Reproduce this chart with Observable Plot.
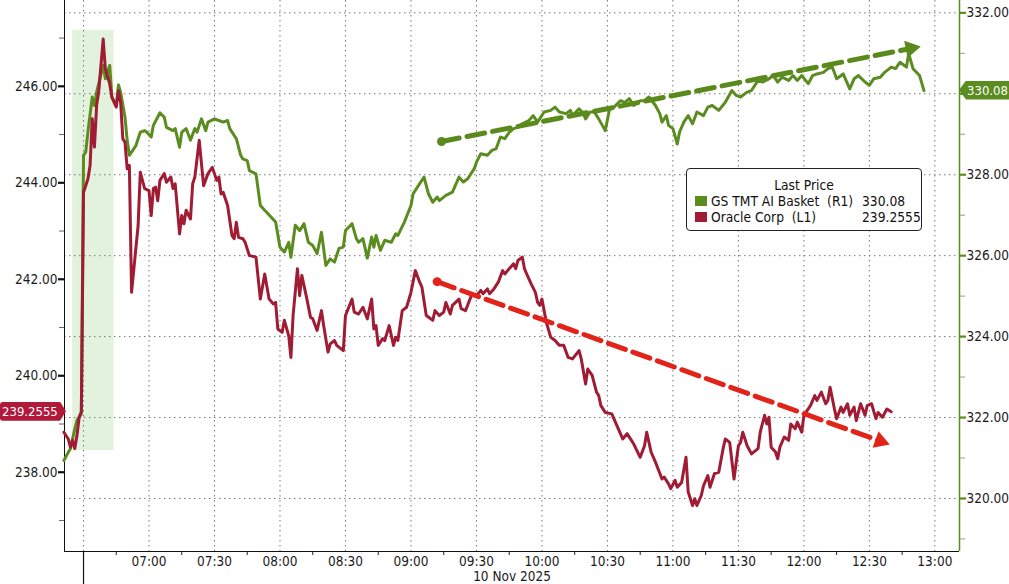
<!DOCTYPE html>
<html><head><meta charset="utf-8">
<script src="https://cdn.jsdelivr.net/npm/d3@7"></script>
<script src="https://cdn.jsdelivr.net/npm/@observablehq/plot@0.6"></script>
<style>
html,body{margin:0;padding:0;background:#fff;}
#wrap{position:relative;width:1009px;height:584px;overflow:hidden;
  font-family:"DejaVu Sans Condensed","Liberation Sans Narrow","Liberation Sans",sans-serif;}
#wrap svg{display:block;background:#fff;}
.badge{position:absolute;height:19px;line-height:19px;color:#fff;font-size:13px;box-sizing:border-box;}
.legend{position:absolute;background:#fff;border:1px solid #222;border-radius:4px;box-sizing:border-box;
  font-size:13.7px;color:#111;padding-top:8px;}
.legend .lp{text-align:center;line-height:16px;}
.legend .row{position:relative;height:16px;line-height:16px;}
.legend .sw{position:absolute;left:8px;top:3px;width:12px;height:10px;}
.legend .nm{position:absolute;left:24px;white-space:pre;}
.legend .val{position:absolute;left:175px;}
</style></head>
<body><div id="wrap"></div>
<script>
// ---------- data ----------
const seriesNames = ["GS TMT AI Basket", "Oracle Corp"];
const seriesTags = ["(R1)", "(L1)"];
const gsLast = 330.08;
const orclLast = 239.2555;

const gsSeries = [
["06:21",320.94],["06:23",321.14],["06:24",321.23],["06:26",321.72],["06:27",321.93],["06:29",322.09],
["06:30",328.48],["06:31",328.56],["06:32",329.05],["06:34",329.92],["06:35",329.71],["06:36",330.04],
["06:39",330.70],["06:40",330.37],["06:42",330.70],["06:43",329.92],["06:45",329.71],["06:46",330.22],
["06:47",330.04],["06:49",329.42],["06:50",328.85],["06:51",328.48],["06:54",328.72],["06:56",329.05],
["06:58",329.09],["06:59",329.05],["07:01",328.93],["07:02",329.22],["07:05",329.53],["07:07",329.42],
["07:08",329.17],["07:11",329.09],["07:12",329.14],["07:14",328.68],["07:15",329.05],["07:17",329.14],
["07:19",328.85],["07:21",329.14],["07:22",329.05],["07:24",329.38],["07:26",329.09],["07:27",329.30],
["07:30",329.38],["07:32",329.34],["07:34",329.30],["07:36",329.34],["07:37",329.14],["07:40",328.89],
["07:42",328.48],["07:43",328.39],["07:45",328.35],["07:46",328.10],["07:49",328.02],["07:51",327.24],
["07:53",327.12],["07:56",326.95],["07:58",326.83],["08:00",326.21],["08:02",326.09],["08:04",326.33],
["08:05",325.96],["08:07",326.75],["08:09",326.62],["08:11",326.79],["08:13",326.33],["08:15",326.25],
["08:17",326.05],["08:19",326.58],["08:21",325.76],["08:23",325.92],["08:25",325.84],["08:27",326.18],
["08:29",326.21],["08:30",326.62],["08:33",326.79],["08:35",326.42],["08:36",326.33],["08:38",326.42],
["08:40",325.94],["08:42",326.46],["08:43",326.21],["08:44",326.50],["08:46",326.13],["08:48",326.38],
["08:51",326.33],["08:53",326.54],["08:54",326.50],["08:57",326.83],["09:00",327.24],["09:01",327.53],
["09:04",327.78],["09:06",327.94],["09:08",327.53],["09:10",327.32],["09:12",327.45],["09:13",327.36],
["09:16",327.49],["09:19",327.57],["09:22",327.94],["09:24",327.82],["09:26",327.90],["09:29",328.15],
["09:30",328.31],["09:32",328.52],["09:35",328.48],["09:37",328.60],["09:39",328.64],["09:41",328.93],
["09:43",328.89],["09:45",329.05],["09:47",329.14],["09:49",329.17],["09:51",329.26],["09:54",329.34],
["09:56",329.46],["09:58",329.30],["10:01",329.55],["10:04",329.59],["10:06",329.67],["10:08",329.55],
["10:11",329.51],["10:13",329.59],["10:14",329.46],["10:17",329.63],["10:19",329.51],["10:20",329.38],
["10:22",329.55],["10:24",329.55],["10:26",329.38],["10:29",329.09],["10:31",329.63],["10:33",329.67],
["10:36",329.83],["10:38",329.79],["10:40",329.88],["10:42",329.71],["10:45",329.83],["10:47",329.83],
["10:49",329.92],["10:52",329.71],["10:54",329.51],["10:55",329.30],["10:57",329.46],["10:58",329.22],
["11:00",329.14],["11:02",328.76],["11:03",329.05],["11:05",329.30],["11:07",329.46],["11:09",329.26],
["11:11",329.55],["11:14",329.46],["11:16",329.67],["11:18",329.71],["11:21",329.59],["11:24",329.79],
["11:27",330.08],["11:29",329.96],["11:31",329.92],["11:34",330.04],["11:36",330.08],["11:39",330.33],
["11:41",330.29],["11:44",330.37],["11:46",330.45],["11:48",330.29],["11:50",330.41],["11:53",330.33],
["11:55",330.45],["11:57",330.33],["11:59",330.45],["12:02",330.25],["12:04",330.45],["12:06",330.49],
["12:09",330.53],["12:11",330.62],["12:13",330.66],["12:15",330.37],["12:18",330.49],["12:21",330.12],
["12:23",330.37],["12:25",330.45],["12:28",330.29],["12:30",330.21],["12:32",330.37],["12:35",330.41],
["12:37",330.53],["12:40",330.66],["12:42",330.62],["12:44",330.78],["12:47",330.66],["12:48",330.99],
["12:50",330.62],["12:53",330.45],["12:55",330.08]
];

const orclSeries = [
["06:21",238.83],["06:23",238.69],["06:24",238.52],["06:25",238.66],["06:26",238.49],["06:27",238.76],
["06:28",239.14],["06:29",239.2555],["06:30",243.80],["06:32",244.08],["06:33",244.36],["06:34",245.33],
["06:35",244.74],["06:36",245.60],["06:37",245.91],["06:39",246.98],["06:40",246.36],["06:42",246.05],
["06:43",245.77],["06:45",245.57],["06:46",245.91],["06:47",245.67],["06:48",244.91],["06:49",244.84],
["06:50",244.29],["06:51",244.36],["06:52",241.73],["06:55",243.11],["06:56",244.22],["06:58",243.88],
["07:00",243.84],["07:01",243.32],["07:02",243.88],["07:03",243.91],["07:04",243.63],["07:05",244.05],
["07:07",244.19],["07:08",244.01],["07:10",244.12],["07:11",243.88],["07:12",243.98],["07:14",242.94],
["07:15",243.32],["07:16",243.15],["07:17",243.43],["07:19",243.25],["07:20",243.98],["07:21",244.12],
["07:23",244.88],["07:25",243.94],["07:27",244.19],["07:29",244.32],["07:31",244.05],["07:32",244.12],
["07:33",243.77],["07:34",243.80],["07:36",243.53],["07:38",242.91],["07:39",242.84],["07:40",243.18],
["07:41",242.87],["07:43",242.84],["07:44",242.77],["07:46",242.49],["07:49",242.46],["07:51",241.59],
["07:53",242.11],["07:55",241.59],["07:57",241.49],["07:58",241.52],["07:59",240.97],["08:01",240.90],
["08:02",241.15],["08:04",240.83],["08:05",240.38],["08:06",241.25],["08:08",242.22],["08:09",241.66],
["08:10",242.08],["08:12",241.66],["08:14",241.21],["08:15",241.18],["08:17",240.94],["08:19",241.35],
["08:20",241.04],["08:22",240.49],["08:23",240.66],["08:25",240.73],["08:26",240.63],["08:29",240.52],
["08:30",241.25],["08:33",241.59],["08:34",241.32],["08:36",241.28],["08:38",241.42],["08:40",241.18],
["08:42",241.59],["08:43",240.97],["08:44",241.04],["08:45",240.63],["08:47",240.77],["08:48",240.73],
["08:50",241.04],["08:52",240.63],["08:53",240.80],["08:54",240.73],["08:56",241.35],["08:58",241.42],
["09:00",241.73],["09:02",242.18],["09:04",241.94],["09:05",241.84],["09:07",241.25],["09:10",241.15],
["09:11",241.35],["09:13",241.25],["09:15",241.32],["09:16",241.52],["09:18",241.28],["09:19",241.46],
["09:22",241.59],["09:23",241.39],["09:25",241.35],["09:28",241.70],["09:30",241.66],["09:32",241.77],
["09:33",241.70],["09:35",241.80],["09:36",241.70],["09:38",241.80],["09:40",241.94],["09:42",242.18],
["09:43",242.11],["09:45",242.22],["09:47",242.32],["09:48",242.22],["09:49",242.39],["09:51",242.46],
["09:52",242.22],["09:53",242.11],["09:55",241.91],["09:57",241.73],["09:58",241.52],["09:59",241.46],
["10:00",241.59],["10:02",241.11],["10:04",240.80],["10:06",240.73],["10:08",240.63],["10:10",240.63],
["10:12",240.38],["10:14",240.35],["10:17",240.52],["10:18",240.35],["10:20",239.83],["10:21",240.14],
["10:23",240.01],["10:25",239.66],["10:26",239.59],["10:27",239.38],["10:29",239.24],["10:32",239.21],
["10:35",238.90],["10:37",238.69],["10:39",238.80],["10:41",238.66],["10:42",238.59],["10:45",238.31],
["10:47",238.55],["10:48",238.83],["10:50",238.42],["10:52",238.21],["10:55",237.86],["10:56",237.90],
["10:58",237.76],["10:59",237.66],["11:01",237.83],["11:02",237.69],["11:04",237.79],["11:06",238.31],
["11:07",237.59],["11:09",237.31],["11:10",237.45],["11:11",237.31],["11:13",237.52],["11:14",237.72],
["11:16",237.93],["11:17",237.69],["11:19",237.97],["11:21",238.00],["11:23",238.49],["11:24",238.69],
["11:26",238.62],["11:28",237.86],["11:30",238.55],["11:31",238.62],["11:32",238.83],["11:34",238.55],
["11:36",238.38],["11:39",238.49],["11:40",238.83],["11:42",239.18],["11:43",239.00],["11:44",239.14],
["11:45",238.52],["11:47",238.42],["11:48",238.28],["11:49",238.52],["11:51",238.73],["11:53",238.66],
["11:54",239.00],["11:56",238.90],["11:57",239.04],["11:59",238.83],["12:00",239.18],["12:03",239.38],
["12:05",239.59],["12:06",239.49],["12:08",239.66],["12:10",239.42],["12:11",239.49],["12:12",239.76],
["12:14",239.31],["12:15",239.11],["12:17",239.35],["12:18",239.24],["12:20",239.42],["12:21",239.18],
["12:23",239.35],["12:24",239.07],["12:26",239.42],["12:28",239.18],["12:29",239.38],["12:31",239.42],
["12:33",239.11],["12:34",239.24],["12:36",239.14],["12:38",239.31],["12:40",239.2555]
];

// trend arrows (start, head) and pre-market shading
const gsTrend = [["09:14",328.82],["12:49",331.12]];
const orclTrend = [["09:12",241.95],["12:35",238.645]];
const preMarket = {start:"06:25", end:"06:44", low:238.45, high:247.16};

// axes
const leftDomain = [236.357, 247.779];
const rightDomain = [318.690, 332.305];
const timeDomain = ["06:21:17", "13:11:17"];
const leftMajor = [238, 240, 242, 244, 246];
const leftMinor = [237, 239, 241, 243, 245, 247];
const rightMajor = [320, 322, 324, 326, 328, 330, 332];
const rightMinor = [319, 321, 323, 325, 327, 329, 331];
const timeLabels = ["07:00","07:30","08:00","08:30","09:00","09:30","10:00","10:30","11:00","11:30","12:00","12:30","13:00"];
const sessionStart = "06:30";
const minorTimes = ["06:45","07:15","07:45","08:15","08:45","09:15","09:45","10:15","10:45","11:15","11:45","12:15","12:45"];
const dateLabel = "10 Nov 2025";

// ---------- styles ----------
const GREEN = "#5b8c1f", RED = "#a01c34", ARROW_RED = "#e2231a", GREEN_ARROW = "#5a8a1c";
const FONT = '"DejaVu Sans Condensed","Liberation Sans Narrow","Liberation Sans",sans-serif';

const T = s => new Date(`2025-11-10T${s.length === 5 ? s + ":00" : s}Z`);
const toLeft = d3.scaleLinear().domain(rightDomain).range(leftDomain);
const f2 = d3.format(".2f");

const gsData = gsSeries.map(([t, v]) => ({t: T(t), v: toLeft(v)}));
const orclData = orclSeries.map(([t, v]) => ({t: T(t), v}));
const gsTrendData = gsTrend.map(([t, v]) => ({t: T(t), v: toLeft(v)}));
const orclTrendData = orclTrend.map(([t, v]) => ({t: T(t), v}));

// right-axis labels hidden where the last-price badge sits (as in the reference)
const rightLabel = d => {
  const r = toLeft.invert(d);
  return Math.abs(r - gsLast) < 0.5 ? "" : f2(r);
};

const plot = Plot.plot({
  width: 1009, height: 584,
  marginLeft: 64, marginRight: 50, marginTop: 0, marginBottom: 33,
  x: {type: "utc", domain: timeDomain.map(T)},
  y: {domain: leftDomain},
  style: {fontFamily: FONT, fontSize: "13px", color: "#1a1a1a", background: "#fff", overflow: "visible"},
  marks: [
    Plot.rect([preMarket], {x1: d => T(d.start), x2: d => T(d.end), y1: "low", y2: "high", fill: "#e2f2dc"}),
    Plot.ruleY(rightMajor.map(toLeft), {stroke: "#777", strokeDasharray: "1.5,3.5", strokeWidth: 1}),
    Plot.ruleX([sessionStart, ...timeLabels].map(T), {stroke: "#777", strokeDasharray: "1.5,3.5", strokeWidth: 1}),
    Plot.ruleX([T(sessionStart)], {stroke: "#111", strokeWidth: 1.2, insetTop: 551, insetBottom: -33}),
    Plot.ruleY([leftDomain[0]], {stroke: "#111", strokeWidth: 1.2}),
    Plot.ruleX([T(timeDomain[0])], {stroke: "#111", strokeWidth: 1}),
    Plot.ruleX([T(timeDomain[1])], {stroke: GREEN, strokeWidth: 1.5}),
    // series
    Plot.line(gsData, {x: "t", y: "v", stroke: GREEN, strokeWidth: 3, strokeLinejoin: "round"}),
    Plot.line(orclData, {x: "t", y: "v", stroke: RED, strokeWidth: 3, strokeLinejoin: "round"}),
    // trend arrows
    Plot.line(gsTrendData, {x: "t", y: "v", stroke: GREEN_ARROW, strokeWidth: 5, strokeDasharray: "18,8"}),
    Plot.dot([gsTrendData[0]], {x: "t", y: "v", r: 4.5, fill: GREEN_ARROW}),
    Plot.dot([gsTrendData[1]], {x: "t", y: "v", r: 6.5, symbol: "triangle", rotate: 78.8, fill: GREEN_ARROW}),
    Plot.line(orclTrendData, {x: "t", y: "v", stroke: ARROW_RED, strokeWidth: 5, strokeDasharray: "18,8"}),
    Plot.dot([orclTrendData[0]], {x: "t", y: "v", r: 4.5, fill: ARROW_RED}),
    Plot.dot([orclTrendData[1]], {x: "t", y: "v", r: 6.5, symbol: "triangle", rotate: 109.8, fill: ARROW_RED}),
    // left axis
    Plot.axisY(leftMinor, {anchor: "left", tickSize: 5, tickFormat: () => "", stroke: "#666", label: null}),
    Plot.axisY(leftMajor, {anchor: "left", tickSize: 6, tickPadding: 1, strokeWidth: 2.2, stroke: "#111",
      tickFormat: f2, fontSize: 13.5, label: null}),
    // right axis
    Plot.axisY(rightMinor.map(toLeft), {anchor: "right", tickSize: 5, tickFormat: () => "", stroke: "#999", label: null}),
    Plot.axisY(rightMajor.map(toLeft), {anchor: "right", tickSize: 6, tickPadding: 1, strokeWidth: 2.2, stroke: GREEN,
      tickFormat: rightLabel, fontSize: 13.5, label: null}),
    // time axis
    Plot.axisX(minorTimes.map(T), {tickSize: 4, tickFormat: () => "", stroke: "#222", label: null}),
    Plot.axisX(timeLabels.map(T), {tickSize: 0, tickPadding: 5, tickFormat: d3.utcFormat("%H:%M"), fontSize: 13.5, label: null}),
    Plot.text([dateLabel], {frameAnchor: "bottom", dy: 25, lineAnchor: "middle", fontSize: 13.5, fill: "#1a1a1a"})
  ]
});

const wrap = document.getElementById("wrap");
wrap.appendChild(plot);

// value badges on axes, positioned with the plot's own y scale
const ys = plot.scale("y");
function badge(text, color, yPix, side) {
  const b = document.createElement("div");
  b.className = "badge";
  b.textContent = text;
  b.style.background = color;
  b.style.top = (yPix - 9.5) + "px";
  if (side === "right") {
    b.style.left = "959px"; b.style.width = "50px"; b.style.paddingLeft = "8px";
    b.style.clipPath = "polygon(0 50%, 7px 0, 100% 0, 100% 100%, 7px 100%)";
  } else {
    b.style.left = "0px"; b.style.width = "66px"; b.style.paddingLeft = "2px";
    b.style.clipPath = "polygon(0 0, calc(100% - 6px) 0, 100% 50%, calc(100% - 6px) 100%, 0 100%)";
    b.style.borderRadius = "3px 0 0 3px";
  }
  wrap.appendChild(b);
}
badge(f2(gsLast), GREEN, ys.apply(toLeft(gsLast)), "right");
badge(String(orclLast), "#b0193a", ys.apply(orclLast), "left");

// legend box
const lg = document.createElement("div");
lg.className = "legend";
Object.assign(lg.style, {left: "686px", top: "168px", width: "236px", height: "63px"});
const lp = document.createElement("div"); lp.className = "lp"; lp.textContent = "Last Price"; lg.appendChild(lp);
[[seriesNames[0], seriesTags[0], f2(gsLast), GREEN], [seriesNames[1], seriesTags[1], String(orclLast), RED]].forEach(([n, tag, v, c]) => {
  const r = document.createElement("div"); r.className = "row";
  const sw = document.createElement("span"); sw.className = "sw"; sw.style.background = c;
  const nm = document.createElement("span"); nm.className = "nm"; nm.textContent = n + "  " + tag;
  const val = document.createElement("span"); val.className = "val"; val.textContent = v;
  r.append(sw, nm, val); lg.appendChild(r);
});
wrap.appendChild(lg);
</script>
</body></html>
